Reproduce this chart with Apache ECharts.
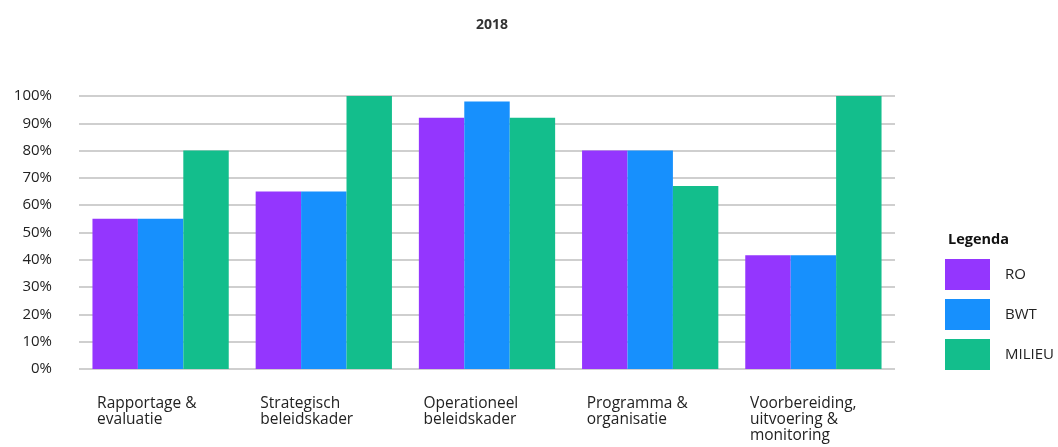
<!DOCTYPE html>
<html>
<head>
<meta charset="utf-8">
<script src="https://cdn.jsdelivr.net/npm/echarts@6/dist/echarts.min.js"></script>
<style>html,body{margin:0;padding:0;background:#fff}#c{width:1058px;height:447px}</style>
</head>
<body>
<div id="c"></div>
<script>
const categories = ['Rapportage &\nevaluatie', 'Strategisch\nbeleidskader', 'Operationeel\nbeleidskader', 'Programma &\norganisatie', 'Voorbereiding,\nuitvoering &\nmonitoring'];
const seriesNames = ['RO', 'BWT', 'MILIEU'];
const ro = [55, 65, 92, 80, 41.7];
const bwt = [55, 65, 98, 80, 41.7];
const milieu = [80, 100, 92, 67, 100];
const colors = ['#9436FE', '#1790FD', '#13BE8C'];
const FONT = 'Open Sans';

const chart = echarts.init(document.getElementById('c'), null, {renderer: 'canvas'});
chart.setOption({
  animation: false,
  backgroundColor: '#fff',
  title: [
    {text: '2018', left: 487, top: 13, textAlign: 'center',
     textStyle: {fontFamily: FONT, fontSize: 14, fontWeight: 'bold', color: '#333'}},
    {text: 'Legenda', left: 943, top: 227,
     textStyle: {fontFamily: FONT, fontSize: 14.5, fontWeight: 'bold', color: '#111'}}
  ],
  legend: {
    orient: 'vertical', left: 940, top: 254,
    itemWidth: 45, itemHeight: 31, itemGap: 9, icon: 'rect',
    data: seriesNames,
    textStyle: {fontFamily: FONT, fontSize: 15, color: '#222', padding: [0, 0, 0, 10]}
  },
  grid: {left: 79, right: 163, top: 96, bottom: 78, containLabel: false},
  xAxis: {
    type: 'category', data: categories,
    axisLine: {show: false}, axisTick: {show: false},
    axisLabel: {
      margin: 27, align: 'center',
      formatter: v => v.split('\n').map(s => '{a|' + s + '}').join('\n'),
      rich: {a: {width: 127, align: 'left', fontFamily: FONT, fontSize: 15.5, lineHeight: 16, color: '#222'}}
    }
  },
  yAxis: {
    type: 'value', min: 0, max: 100, interval: 10,
    axisLine: {show: false}, axisTick: {show: false},
    splitLine: {lineStyle: {color: '#cfcfcf', width: 2}},
    axisLabel: {margin: 27, formatter: '{value}%', fontFamily: FONT, fontSize: 15, color: '#222'}
  },
  series: [
    {name: seriesNames[0], type: 'bar', data: ro, itemStyle: {color: colors[0]}, barGap: 0, barCategoryGap: '16.5%'},
    {name: seriesNames[1], type: 'bar', data: bwt, itemStyle: {color: colors[1]}, barGap: 0, barCategoryGap: '16.5%'},
    {name: seriesNames[2], type: 'bar', data: milieu, itemStyle: {color: colors[2]}, barGap: 0, barCategoryGap: '16.5%'}
  ]
});
</script>
</body>
</html>
